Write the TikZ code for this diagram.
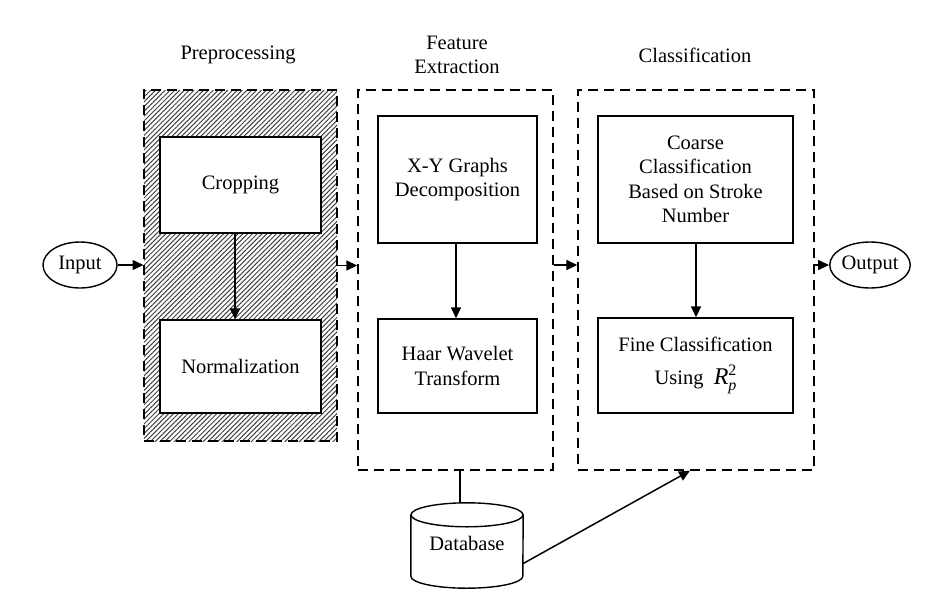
\documentclass[tikz,border=0pt]{standalone}
\usepackage{fontspec}
\setmainfont{Liberation Serif}
\usetikzlibrary{arrows.meta,patterns.meta,shapes.geometric,calc}
\begin{document}
\begin{tikzpicture}[x=1pt,y=-1pt,
  font=\fontsize{20.5}{24.5}\selectfont,
  stage/.style={draw, dash pattern=on 10pt off 6pt, line width=1.4pt, inner sep=0pt},
  blk/.style={draw, line width=1.4pt, fill=white, align=center, inner sep=0pt},
  term/.style={draw, ellipse, line width=1.4pt, inner sep=0pt, minimum width=74pt, minimum height=46pt},
  flow/.style={line width=1.5pt, -{Triangle[length=11pt,width=10pt]}},
  lbl/.style={align=center}]
\useasboundingbox (0,0) rectangle (952,592);

% stage frames
\node[stage, pattern={Lines[angle=45,distance=3.4pt,line width=1pt]}, pattern color=black!75,
      minimum width=193pt, minimum height=351pt] (pre) at (240.5,265.5) {};
\node[stage, minimum width=195pt, minimum height=380pt] (fe) at (455.5,280) {};
\node[stage, minimum width=236pt, minimum height=380pt] (cls) at (696,280) {};

% stage titles
\node[lbl] (tpre) at (238,55) {Preprocessing};
\node[lbl] (tfe) at (457,55) {Feature\\Extraction};
\node[lbl] (tcls) at (695,55) {Classification};

% processing blocks
\node[blk, minimum width=161pt, minimum height=96pt] (crop) at (240.5,185) {Cropping};
\node[blk, minimum width=161pt, minimum height=93pt] (norm) at (240.5,366.5) {Normalization};
\node[blk, minimum width=159pt, minimum height=127pt] (xy) at (457.5,179.5) {X-Y Graphs\\Decomposition};
\node[blk, minimum width=159pt, minimum height=94pt] (haar) at (457.5,366) {Haar Wavelet\\Transform};
\node[blk, minimum width=195pt, minimum height=127pt] (coarse) at (695.5,179.5) {Coarse\\Classification\\Based on Stroke\\Number};
\node[blk, minimum width=195pt, minimum height=95pt] (fine) at (695.5,365.5)
  {Fine Classification\\[9pt]Using \ {\fontsize{24}{24}\selectfont\itshape R}%
   \raisebox{-6pt}{\rlap{\fontsize{16}{16}\selectfont\itshape p}}%
   \raisebox{9pt}{\fontsize{16}{16}\selectfont 2}};

% terminals
\node[term] (in) at (80,265) {Input};
\node[term] (out) at (870,265) {Output};

% database cylinder
\node[minimum width=112pt, minimum height=85pt, inner sep=0pt] (db) at (467,545.5) {};
\draw[line width=1.4pt, fill=white]
  (db.north west) ++(0,12) -- ([yshift=12pt]db.south west)
  arc[start angle=180, end angle=0, x radius=56, y radius=12]
  -- ([yshift=-12pt]db.north east);
\draw[line width=1.4pt] ($(db.north)+(0,12)$) ellipse [x radius=56, y radius=12];
\node (dbt) at (467,543) {Database};

% connectors
\draw[flow] (in.east) -- (in.east -| pre.west);
\draw[flow] (pre.east) -- (pre.east -| fe.west);
\draw[flow] (fe.east |- in.east) -- (cls.west |- in.east);
\draw[flow] (cls.east |- out.west) -- (out.west);
\draw[flow] ([xshift=-5.5pt]crop.south) -- ([xshift=-5.5pt]norm.north);
\draw[flow] ([xshift=-1.5pt]xy.south) -- ([xshift=-1.5pt]haar.north);
\draw[flow] ([xshift=0.5pt]coarse.south) -- ([xshift=0.5pt]fine.north);
\draw[line width=1.4pt] ([xshift=4.5pt]fe.south) -- ([xshift=4.5pt]fe.south |- db.north);
\coordinate (dbout) at ($(db.east)+(0,18)$);
\draw[flow] (dbout) -- ([xshift=-6pt]cls.south);
\end{tikzpicture}
\end{document}
